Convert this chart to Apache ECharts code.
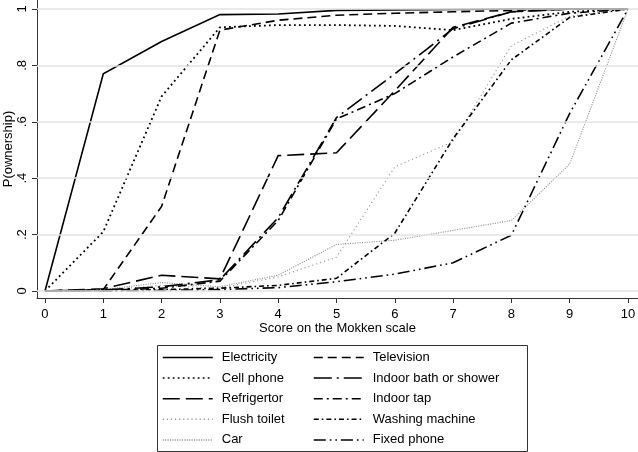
<!DOCTYPE html>
<html>
<head>
<meta charset="utf-8">
<script src="https://cdn.jsdelivr.net/npm/echarts@6/dist/echarts.min.js"></script>
<style>
html,body{margin:0;padding:0;background:#fff;}
#c{width:638px;height:452px;}
</style>
</head>
<body>
<div id="c"></div>
<script>
var scores = [0, 1, 2, 3, 4, 5, 6, 7, 8, 9, 10];
var xTicks = [0, 1, 2, 3, 4, 5, 6, 7, 8, 9, 10];
var yTicks = [0, 0.2, 0.4, 0.6, 0.8, 1];

var electricity    = [0, 0.77, 0.885, 0.98, 0.982, 0.995, 0.997, 0.998, 1, 1, 1];
var cellPhone      = [0, 0.21, 0.69, 0.935, 0.943, 0.943, 0.94, 0.925, 0.965, 0.99, 1];
var refrigertor    = [0, 0.008, 0.056, 0.043, 0.48, 0.49, 0.71, 0.935, 0.99, 1, 1];
var flushToilet    = [0, 0.003, 0.02, 0.01, 0.05, 0.12, 0.44, 0.53, 0.87, 0.975, 1];
var car            = [0, 0.005, 0.03, 0.015, 0.056, 0.165, 0.18, 0.215, 0.25, 0.45, 1];
var television     = [0, 0.005, 0.30, 0.925, 0.96, 0.978, 0.985, 0.99, 0.995, 1, 1];
var indoorBath     = [0, 0.004, 0.015, 0.04, 0.26, 0.615, 0.77, 0.93, 0.99, 1, 1];
var indoorTap      = [0, 0.002, 0.01, 0.035, 0.25, 0.61, 0.70, 0.83, 0.95, 0.985, 1];
var washingMachine = [0, 0.001, 0.005, 0.01, 0.02, 0.045, 0.205, 0.54, 0.82, 0.97, 1];
var fixedPhone     = [0, 0, 0.002, 0.005, 0.012, 0.033, 0.06, 0.10, 0.198, 0.63, 1];

var names1 = ['Electricity', 'Cell phone', 'Refrigertor', 'Flush toilet', 'Car'];
var names2 = ['Television', 'Indoor bath or shower', 'Indoor tap', 'Washing machine', 'Fixed phone'];

var FONT = '"Liberation Sans", Arial, Helvetica, sans-serif';

function pairs(arr) { return scores.map(function (x, i) { return [x, arr[i]]; }); }

var seriesDefs = [
  {name: 'Electricity', data: electricity, color: '#000', width: 1.6, type: 'solid'},
  {name: 'Cell phone', data: cellPhone, color: '#000', width: 1.8, type: [1.8, 3.2]},
  {name: 'Refrigertor', data: refrigertor, color: '#000', width: 1.6, type: [17, 6]},
  {name: 'Flush toilet', data: flushToilet, color: '#8f8f8f', width: 1.1, type: [1.1, 3]},
  {name: 'Car', data: car, color: '#8f8f8f', width: 1.1, type: [1.1, 1.3]},
  {name: 'Television', data: television, color: '#000', width: 1.6, type: [9, 5]},
  {name: 'Indoor bath or shower', data: indoorBath, color: '#000', width: 1.6, type: [18, 5, 2, 5]},
  {name: 'Indoor tap', data: indoorTap, color: '#000', width: 1.6, type: [9, 4, 2, 4]},
  {name: 'Washing machine', data: washingMachine, color: '#000', width: 1.6, type: [5, 3, 1.6, 3]},
  {name: 'Fixed phone', data: fixedPhone, color: '#000', width: 1.6, type: [12, 4, 1.6, 4, 1.6, 4]}
];

var series = [{
  type: 'line', data: [], silent: true, z: 0,
  markLine: {
    silent: true, symbol: 'none', label: {show: false}, animation: false,
    lineStyle: {color: '#e3e3e3', width: 1.5, type: 'solid'},
    emphasis: {disabled: true},
    data: yTicks.map(function (v) { return {yAxis: v}; })
  }
}];
seriesDefs.forEach(function (s) {
  series.push({
    name: s.name, type: 'line', data: pairs(s.data), symbol: 'none', showSymbol: false,
    z: 3, silent: true, emphasis: {disabled: true},
    lineStyle: {color: s.color, width: s.width, type: s.type, cap: 'butt', join: 'miter'},
    itemStyle: {color: s.color}
  });
});

function legendOpt(names, left) {
  return {
    data: names, orient: 'vertical', left: left, top: 351, itemWidth: 50, itemHeight: 14, itemGap: 7.6,
    selectedMode: false, padding: 0,
    itemStyle: {opacity: 0, borderWidth: 0},
    lineStyle: {width: 1.5},
    textStyle: {fontSize: 13, fontFamily: FONT, color: '#000', padding: [0, 0, 0, 4]}
  };
}

var chart = echarts.init(document.getElementById('c'), null, {renderer: 'canvas'});
chart.setOption({
  animation: false,
  backgroundColor: '#fff',
  grid: {left: 37, right: 0, top: 0, bottom: 154, containLabel: false, outerBoundsMode: 'none'},
  xAxis: {
    type: 'value', min: -0.137, max: 10.1715,
    name: 'Score on the Mokken scale', nameLocation: 'middle', nameGap: 24, nameMoveOverlap: false,
    nameTextStyle: {fontSize: 13, fontFamily: FONT, color: '#000'},
    axisLine: {show: true, onZero: false, lineStyle: {color: '#333', width: 1}},
    axisTick: {show: true, length: 5, customValues: xTicks, lineStyle: {color: '#333'}},
    axisLabel: {customValues: xTicks, fontSize: 13, fontFamily: FONT, color: '#000', margin: 10},
    splitLine: {show: false}
  },
  yAxis: {
    type: 'value', min: -0.0248, max: 1.0319,
    name: 'P(ownership)', nameLocation: 'middle', nameGap: 22, nameRotate: 90, nameMoveOverlap: false,
    nameTextStyle: {fontSize: 13, fontFamily: FONT, color: '#000'},
    axisLine: {show: true, onZero: false, lineStyle: {color: '#333', width: 1}},
    axisTick: {show: true, length: 5, customValues: yTicks, lineStyle: {color: '#333'}},
    axisLabel: {
      customValues: yTicks, rotate: 90, fontSize: 13, fontFamily: FONT, color: '#000', margin: 8,
      formatter: function (v) {
        if (v === 0) return '0';
        if (v === 1) return '1';
        return String(Math.round(v * 10) / 10).replace(/^0\./, '.');
      }
    },
    splitLine: {show: false}
  },
  legend: [legendOpt(names1, 162), legendOpt(names2, 313)],
  graphic: [{
    type: 'rect', left: 155, top: 343, silent: true,
    shape: {width: 370, height: 106},
    style: {fill: null, stroke: '#333', lineWidth: 1}
  }],
  series: series
});
</script>
</body>
</html>
